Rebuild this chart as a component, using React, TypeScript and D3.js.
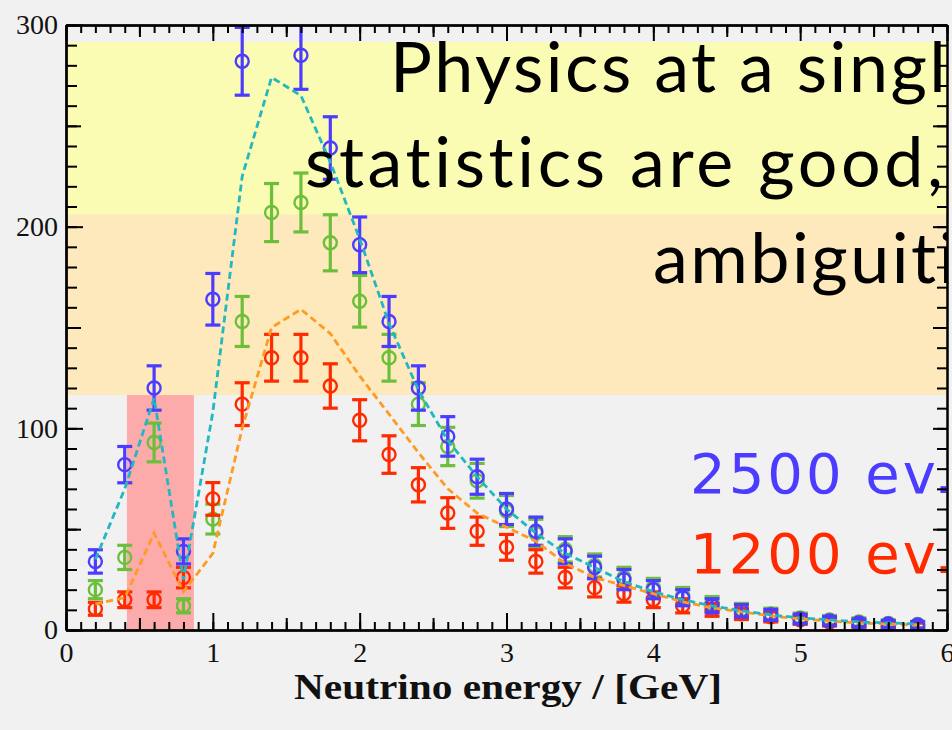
import React, { useRef, useEffect } from "react";
import * as d3 from "d3";

// bin centres in GeV
const energies = [
  0.2, 0.4, 0.6, 0.8, 1.0, 1.2, 1.4, 1.6, 1.8, 2.0, 2.2, 2.4, 2.6, 2.8, 3.0,
  3.2, 3.4, 3.6, 3.8, 4.0, 4.2, 4.4, 4.6, 4.8, 5.0, 5.2, 5.4, 5.6, 5.8,
];

// 2500 events (blue points)
const blueCounts = [
  34, 82, 120, 39, 164, 282, 330, 285, 239, 191, 153, 120, 96, 76, 60, 49, 39,
  31, 25, 20, 16, 12, 9.5, 7.5, 5.5, 4.5, 3.5, 3, 2.5,
];
const blueErrors = [
  5.8, 9, 11, 6.2, 12.8, 16.8, 18.2, 16.9, 15.5, 13.8, 12.4, 11, 9.8, 8.7, 7.7,
  7, 6.2, 5.6, 5, 4.5, 4, 3.5, 3.1, 2.7, 2.3, 2.1, 1.9, 1.7, 1.6,
];

// green points
const greenCounts = [
  20, 36, 93, 12, 55, 153, 207, 212, 192, 163, 135, 112, 91, 74, 59, 48, 40,
  32, 26, 21, 17, 13, 10, 8, 6, 5, 4, 3.2, 2.7,
];
const greenErrors = [
  4.5, 6, 9.6, 3.5, 7.4, 12.4, 14.4, 14.6, 13.9, 12.8, 11.6, 10.6, 9.5, 8.6,
  7.7, 6.9, 6.3, 5.7, 5.1, 4.6, 4.1, 3.6, 3.2, 2.8, 2.4, 2.2, 2, 1.8, 1.6,
];

// 1200 events (red points)
const redCounts = [
  10.5, 15, 15, 26, 65, 112, 135, 135, 121, 104, 87, 72, 58, 49, 41, 34, 26,
  21, 18, 15, 12, 10, 8, 6.5, 5, 4, 3, 2.5, 2,
];
const redErrors = [
  3.2, 3.9, 3.9, 5.1, 8.1, 10.6, 11.6, 11.6, 11, 10.2, 9.3, 8.5, 7.6, 7, 6.4,
  5.8, 5.1, 4.6, 4.2, 3.9, 3.5, 3.2, 2.8, 2.5, 2.2, 2, 1.7, 1.6, 1.4,
];

// expectation curves (dashed)
const cyanExpected = [
  35, 70, 115, 25, 108, 225, 274, 265, 232, 194, 152, 119, 94, 76, 60, 48, 38,
  31, 24, 19, 15, 12, 9.5, 7.5, 6, 5, 4, 3.5, 3,
];
const orangeExpected = [
  13, 16, 48, 19, 38, 100, 150, 159, 147, 126, 107, 88, 70, 58, 51, 44, 33, 26,
  22, 18, 14, 11, 9, 7, 5.5, 4.5, 3.5, 3, 2.5,
];

// slide highlight bands, in data units
const bandYellow = [206, 291.5];
const bandOrange = [116.5, 206];
const pinkBox = { x: [0.415, 0.871], y: [0, 116.5] };

const xMajor = [0, 1, 2, 3, 4, 5, 6];
const yMajor = [0, 100, 200, 300];

const headline = ["Physics at a single", "statistics are good,", "ambiguities"];
const legendLabels = ["2500 ev.", "1200 ev."];

function App() {
  const canvas = useRef(null);

  function drawChart() {
    const W = 952;
    const H = 730;
    const svg = d3.select(canvas.current).attr("width", W).attr("height", H);
    svg.selectAll("*").remove();

    const x = d3.scaleLinear().domain([0, 6]).range([66, 947]);
    const y = d3.scaleLinear().domain([0, 300]).range([630, 25]);

    svg.append("rect").attr("width", W).attr("height", H).attr("fill", "#f1f1f1");

    svg
      .append("defs")
      .append("clipPath")
      .attr("id", "plotclip")
      .append("rect")
      .attr("x", x(0))
      .attr("y", y(300))
      .attr("width", x(6) - x(0))
      .attr("height", y(0) - y(300));

    const plot = svg.append("g").attr("clip-path", "url(#plotclip)");

    plot
      .append("rect")
      .attr("x", x(0))
      .attr("width", x(6) - x(0))
      .attr("y", y(bandYellow[1]))
      .attr("height", y(bandYellow[0]) - y(bandYellow[1]))
      .attr("fill", "#fbfcb3");
    plot
      .append("rect")
      .attr("x", x(0))
      .attr("width", x(6) - x(0))
      .attr("y", y(bandOrange[1]))
      .attr("height", y(bandOrange[0]) - y(bandOrange[1]))
      .attr("fill", "#fde9bb");
    plot
      .append("rect")
      .attr("x", x(pinkBox.x[0]))
      .attr("width", x(pinkBox.x[1]) - x(pinkBox.x[0]))
      .attr("y", y(pinkBox.y[1]))
      .attr("height", y(pinkBox.y[0]) - y(pinkBox.y[1]))
      .attr("fill", "#fdaaab");

    const series = [
      { counts: greenCounts, errors: greenErrors, color: "#6cbf3a" },
      { counts: redCounts, errors: redErrors, color: "#ff2a00" },
      { counts: blueCounts, errors: blueErrors, color: "#4b3cff" },
    ];

    series.forEach((s) => {
      const g = plot.append("g").attr("stroke", s.color).attr("fill", "none");
      const pts = energies.map((e, i) => ({ e, v: s.counts[i], err: s.errors[i] }));
      g.selectAll("line.bar")
        .data(pts)
        .enter()
        .append("line")
        .attr("x1", (d) => x(d.e))
        .attr("x2", (d) => x(d.e))
        .attr("y1", (d) => y(d.v - d.err))
        .attr("y2", (d) => y(d.v + d.err))
        .attr("stroke-width", 3.2);
      [1, -1].forEach((sign) => {
        g.selectAll("line.cap" + sign)
          .data(pts)
          .enter()
          .append("line")
          .attr("x1", (d) => x(d.e) - 7.5)
          .attr("x2", (d) => x(d.e) + 7.5)
          .attr("y1", (d) => y(d.v + sign * d.err))
          .attr("y2", (d) => y(d.v + sign * d.err))
          .attr("stroke-width", 3.2);
      });
      g.selectAll("circle")
        .data(pts)
        .enter()
        .append("circle")
        .attr("cx", (d) => x(d.e))
        .attr("cy", (d) => y(d.v))
        .attr("r", 6.5)
        .attr("stroke-width", 2.4);
    });

    const line = d3
      .line<number>()
      .x((d, i) => x(energies[i]))
      .y((d) => y(d));

    [
      { data: orangeExpected, color: "#ff9a22" },
      { data: cyanExpected, color: "#22b8c0" },
    ].forEach((c) => {
      plot
        .append("path")
        .attr("d", line(c.data))
        .attr("fill", "none")
        .attr("stroke", c.color)
        .attr("stroke-width", 2.8)
        .attr("stroke-dasharray", "7,4");
    });

    // slide overlay text, cut by the frame like on the slide
    const txt = plot
      .append("g")
      .attr("font-family", "Lato, 'Open Sans', sans-serif")
      .attr("font-size", 70)
      .style("font-variant-ligatures", "none")
      .attr("fill", "#000");
    txt.append("text").attr("x", 390).attr("y", 92).attr("letter-spacing", 2.5).text(headline[0]);
    txt.append("text").attr("x", 305).attr("y", 187).attr("letter-spacing", 3.6).text(headline[1]);
    txt.append("text").attr("x", 653).attr("y", 283).attr("letter-spacing", 2.5).text(headline[2]);

    const leg = plot
      .append("g")
      .attr("font-family", "'DejaVu Sans', Verdana, sans-serif")
      .attr("font-size", 56)
      .attr("letter-spacing", 3);
    leg.append("text").attr("x", 690).attr("y", 493).attr("fill", "#4b3cff").text(legendLabels[0]);
    leg.append("text").attr("x", 690).attr("y", 573).attr("fill", "#ff2a00").text(legendLabels[1]);

    // axes
    const fine = d3.range(0, 60.5, 1).map((d) => d / 10);
    const half = [0.5, 1.5, 2.5, 3.5, 4.5, 5.5];
    const yFine = d3.range(0, 301, 10);
    const yHalf = [50, 150, 250];

    const styleAxis = (g) => {
      g.selectAll("path").attr("stroke", "#000").attr("stroke-width", 2);
      g.selectAll("line").attr("stroke", "#000").attr("stroke-width", 2);
      return g;
    };

    const addAxis = (axis, tx, ty) =>
      styleAxis(svg.append("g").attr("transform", `translate(${tx},${ty})`).call(axis));

    // bottom
    addAxis(d3.axisBottom(x).tickValues(fine).tickSize(-8).tickSizeOuter(0).tickFormat(() => ""), 0, y(0));
    addAxis(d3.axisBottom(x).tickValues(half).tickSize(-12).tickSizeOuter(0).tickFormat(() => ""), 0, y(0));
    const xb = addAxis(
      d3.axisBottom(x).tickValues(xMajor).tickSize(-17).tickSizeOuter(0).tickPadding(12).tickFormat(d3.format("d")),
      0,
      y(0)
    );
    xb.selectAll("text").attr("font-family", "'Liberation Serif', serif").attr("font-size", 28).attr("fill", "#111");

    // top
    addAxis(d3.axisTop(x).tickValues(fine).tickSize(-8).tickSizeOuter(0).tickFormat(() => ""), 0, y(300));
    addAxis(d3.axisTop(x).tickValues(half).tickSize(-12).tickSizeOuter(0).tickFormat(() => ""), 0, y(300));
    addAxis(d3.axisTop(x).tickValues(xMajor).tickSize(-16).tickSizeOuter(0).tickFormat(() => ""), 0, y(300));

    // left
    addAxis(d3.axisLeft(y).tickValues(yFine).tickSize(-11).tickSizeOuter(0).tickFormat(() => ""), x(0), 0);
    addAxis(d3.axisLeft(y).tickValues(yHalf).tickSize(-15).tickSizeOuter(0).tickFormat(() => ""), x(0), 0);
    const yl = addAxis(
      d3.axisLeft(y).tickValues(yMajor).tickSize(-17).tickSizeOuter(0).tickPadding(8).tickFormat(d3.format("d")),
      x(0),
      0
    );
    yl.selectAll("text").attr("font-family", "'Liberation Serif', serif").attr("font-size", 28).attr("fill", "#111");

    // right
    addAxis(d3.axisRight(y).tickValues(yFine).tickSize(-10).tickSizeOuter(0).tickFormat(() => ""), x(6), 0);
    addAxis(d3.axisRight(y).tickValues(yMajor.concat(yHalf)).tickSize(-14).tickSizeOuter(0).tickFormat(() => ""), x(6), 0);

    svg
      .append("text")
      .attr("x", 508)
      .attr("y", 699)
      .attr("text-anchor", "middle")
      .attr("font-family", "'Liberation Serif', serif")
      .attr("font-weight", "bold")
      .attr("font-size", 35)
      .attr("textLength", 428)
      .attr("lengthAdjust", "spacingAndGlyphs")
      .attr("fill", "#111")
      .text("Neutrino energy / [GeV]");
  }

  useEffect(() => {
    drawChart();
  }, []);

  return (
    <>
      <svg ref={canvas} style={{ position: "absolute", left: 0, top: 0 }}></svg>
    </>
  );
}

export default App;
